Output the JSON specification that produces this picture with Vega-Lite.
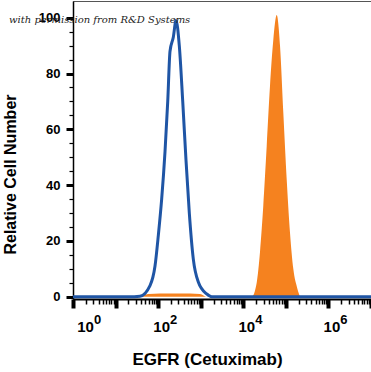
{
  "$schema": "https://vega.github.io/schema/vega-lite/v6.json",
  "width": 298,
  "height": 298,
  "autosize": "none",
  "padding": {"left": 73, "top": 1, "right": 0, "bottom": 73},
  "background": "white",
  "config": {"view": {"stroke": "#555555", "strokeWidth": 1}},
  "title": {
    "text": "with permission from R&D Systems",
    "anchor": "start",
    "frame": "group",
    "orient": "top",
    "dx": -64,
    "dy": 24,
    "font": "DejaVu Serif",
    "fontStyle": "italic",
    "fontWeight": "normal",
    "fontSize": 10,
    "color": "#222222",
    "offset": 0
  },
  "datasets": {
    "blue": [
      {"fl": 1, "count": 0},
      {"fl": 20, "count": 0},
      {"fl": 37.5, "count": 0.2},
      {"fl": 64.4, "count": 4},
      {"fl": 84.4, "count": 11},
      {"fl": 101, "count": 22},
      {"fl": 121, "count": 35},
      {"fl": 145, "count": 52},
      {"fl": 168, "count": 70},
      {"fl": 190, "count": 88},
      {"fl": 227, "count": 93},
      {"fl": 263, "count": 99},
      {"fl": 314, "count": 90},
      {"fl": 378, "count": 70},
      {"fl": 451, "count": 49},
      {"fl": 540, "count": 30},
      {"fl": 670, "count": 13.5},
      {"fl": 878, "count": 5.3},
      {"fl": 1383, "count": 1},
      {"fl": 1811, "count": 0},
      {"fl": 3000, "count": 0},
      {"fl": 10000000, "count": 0}
    ],
    "orange": [
      {"fl": 40, "count": 0},
      {"fl": 60, "count": 1},
      {"fl": 110, "count": 1.2},
      {"fl": 249, "count": 1.2},
      {"fl": 560, "count": 1.2},
      {"fl": 962, "count": 1},
      {"fl": 1400, "count": 0},
      {"fl": 15770, "count": 0},
      {"fl": 20660, "count": 5},
      {"fl": 24700, "count": 16},
      {"fl": 29500, "count": 32.6},
      {"fl": 35500, "count": 54},
      {"fl": 42400, "count": 75.5},
      {"fl": 50700, "count": 92},
      {"fl": 61000, "count": 101},
      {"fl": 72900, "count": 90},
      {"fl": 87100, "count": 66},
      {"fl": 104700, "count": 42},
      {"fl": 125000, "count": 23},
      {"fl": 149600, "count": 10},
      {"fl": 185800, "count": 3},
      {"fl": 214900, "count": 0}
    ]
  },
  "resolve": {"axis": {"x": "independent", "y": "independent"}},
  "layer": [
    {
      "data": {"name": "orange"},
      "mark": {"type": "area", "color": "#f5821f", "interpolate": "monotone", "opacity": 1},
      "encoding": {
        "x": {
          "field": "fl",
          "type": "quantitative",
          "scale": {"type": "log", "domain": [1, 10000000], "nice": false},
          "axis": {
            "orient": "bottom",
            "title": "EGFR (Cetuximab)",
            "titleFont": "Liberation Sans",
            "titleFontSize": 17,
            "titleFontWeight": "bold",
            "titleColor": "black",
            "titleX": 134,
            "titleY": 60,
            "titleAlign": "center",
            "titleBaseline": "middle",
            "values": [1,2,3,4,5,6,7,8,9,10,20,30,40,50,60,70,80,90,100,200,300,400,500,600,700,800,900,1000,2000,3000,4000,5000,6000,7000,8000,9000,10000,20000,30000,40000,50000,60000,70000,80000,90000,100000,200000,300000,400000,500000,600000,700000,800000,900000,1000000,2000000,3000000,4000000,5000000,6000000,7000000,8000000,9000000,10000000],
            "labelExpr": "indexof([1,100,10000,1000000], datum.value) >= 0 ? '10' : ''",
            "labelFont": "Liberation Sans",
            "labelFontWeight": "bold",
            "labelFontSize": 15,
            "labelColor": "black",
            "labelOffset": {"condition": {"test": "datum.value == 1", "value": 12}, "value": 3},
            "labelFlush": false,
            "labelPadding": 11,
            "labelOverlap": false,
            "domainColor": "black",
            "domainWidth": 2,
            "tickColor": "black",
            "tickWidth": {"condition": {"test": "indexof([1,10,100,1000,10000,100000,1000000,10000000], datum.value) >= 0", "value": 4}, "value": 1.5},
            "tickSize": {"condition": {"test": "indexof([1,10,100,1000,10000,100000,1000000,10000000], datum.value) >= 0", "value": 9}, "value": 5},
            "grid": false
          }
        },
        "y": {
          "field": "count",
          "type": "quantitative",
          "scale": {"domain": [-0.8, 106], "nice": false, "zero": false},
          "axis": {
            "orient": "left",
            "title": "Relative Cell Number",
            "titleFont": "Liberation Sans",
            "titleFontSize": 16,
            "titleFontWeight": "bold",
            "titleColor": "black",
            "titleY": 173,
            "titleX": -63,
            "titleAlign": "center",
            "titleBaseline": "middle",
            "titleAngle": 270,
            "values": [0,5,10,15,20,25,30,35,40,45,50,55,60,65,70,75,80,85,90,95,100],
            "labelExpr": "datum.value % 20 == 0 ? datum.label : ''",
            "labelFont": "Liberation Sans",
            "labelFontWeight": "bold",
            "labelFontSize": 13,
            "labelColor": "black",
            "labelPadding": 6,
            "domainColor": "black",
            "domainWidth": 1.5,
            "tickColor": "black",
            "tickWidth": {"condition": {"test": "datum.value % 20 == 0", "value": 3}, "value": 1.2},
            "tickSize": {"condition": {"test": "datum.value % 20 == 0", "value": 7}, "value": 4},
            "grid": false
          }
        }
      }
    },
    {
      "data": {"name": "blue"},
      "mark": {"type": "line", "color": "#1f55a5", "strokeWidth": 3, "interpolate": "monotone"},
      "encoding": {
        "x": {
          "field": "fl",
          "type": "quantitative",
          "scale": {"type": "log", "domain": [1, 10000000], "nice": false},
          "axis": {
            "orient": "bottom",
            "title": null,
            "values": [1, 100, 10000, 1000000],
            "labelExpr": "datum.value==1?'0':datum.value==100?'2':datum.value==10000?'4':'6'",
            "labelFont": "Liberation Sans",
            "labelFontWeight": "bold",
            "labelFontSize": 13,
            "labelColor": "black",
            "labelOffset": {"condition": {"test": "datum.value == 1", "value": 24}, "value": 15},
            "labelFlush": false,
            "labelPadding": 14,
            "labelOverlap": false,
            "domain": false,
            "ticks": false,
            "tickSize": 0,
            "grid": false
          }
        },
        "y": {
          "field": "count",
          "type": "quantitative",
          "scale": {"domain": [-0.8, 106], "nice": false, "zero": false},
          "axis": null
        }
      }
    }
  ]
}
